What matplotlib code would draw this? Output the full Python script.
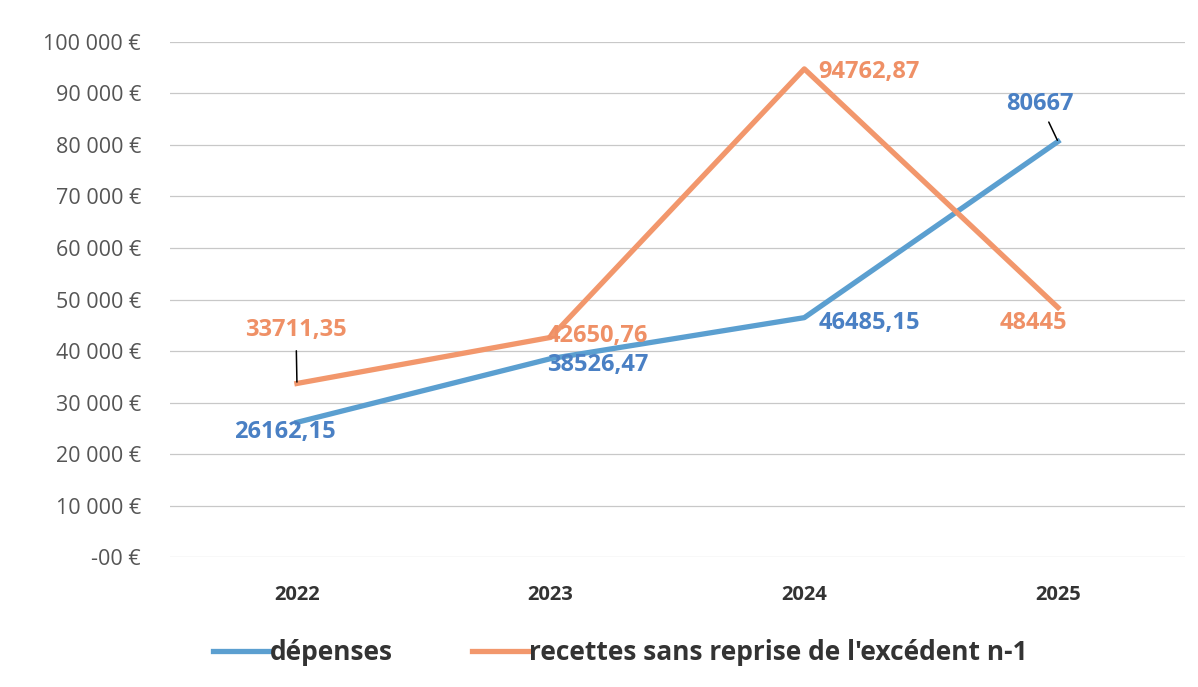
import matplotlib.pyplot as plt
import matplotlib

plt.rcParams['font.family'] = ['Open Sans', 'DejaVu Sans']

# données
annees = ['2022', '2023', '2024', '2025']
depenses = [26162.15, 38526.47, 46485.15, 80667]
recettes = [33711.35, 42650.76, 94762.87, 48445]
etiq_depenses = ['26162,15', '38526,47', '46485,15', '80667']
etiq_recettes = ['33711,35', '42650,76', '94762,87', '48445']
graduations = [0, 10000, 20000, 30000, 40000, 50000, 60000, 70000, 80000, 90000, 100000]
etiq_graduations = ['-00 €', '10 000 €', '20 000 €', '30 000 €', '40 000 €', '50 000 €',
                    '60 000 €', '70 000 €', '80 000 €', '90 000 €', '100 000 €']

bleu = '#5b9fd0'
bleu_txt = '#4a80c4'
orange = '#f2976c'
orange_txt = '#ef9066'

fig = plt.figure(figsize=(11.98, 6.87), dpi=100)
ax = fig.add_axes([0.142, 0.189, 0.847, 0.750])

x = range(len(annees))
ax.plot(x, depenses, color=bleu, lw=3.8, solid_joinstyle='round', label='dépenses')
ax.plot(x, recettes, color=orange, lw=3.8, solid_joinstyle='round',
        label="recettes sans reprise de l'excédent n-1")

ax.set_xlim(-0.5, 3.5)
ax.set_ylim(0, 100000)
ax.set_yticks(graduations)
ax.set_yticklabels(etiq_graduations)
ax.set_xticks(list(x))
ax.set_xticklabels(annees, fontweight='bold')
ax.tick_params(axis='y', length=0, pad=21, labelsize=15.5, labelcolor='#555555')
ax.tick_params(axis='x', length=0, pad=20, labelsize=14.5, labelcolor='#333333')
ax.grid(axis='y', color='#c8c8c8', lw=0.9)
ax.set_axisbelow(True)
for s in ax.spines.values():
    s.set_visible(False)

# étiquettes de données (décalages en pixels)
dec_dep = [(-12, -10), (47, -6), (65, -5), (-18, 38)]
dec_rec = [(-1, 53), (47, 1), (65, -3), (-25, -15)]
fleche_dep = [False, False, False, True]
fleche_rec = [True, False, False, False]

for i in x:
    props = dict(arrowstyle='-', color='black', lw=1.1, shrinkA=3, shrinkB=1) if fleche_dep[i] else None
    ax.annotate(etiq_depenses[i], (i, depenses[i]), xytext=dec_dep[i], textcoords='offset pixels',
                ha='center', va='center', fontsize=17, fontweight='bold', color=bleu_txt,
                arrowprops=props)
    props = dict(arrowstyle='-', color='black', lw=1.1, shrinkA=4, shrinkB=1) if fleche_rec[i] else None
    ax.annotate(etiq_recettes[i], (i, recettes[i]), xytext=dec_rec[i], textcoords='offset pixels',
                ha='center', va='center', fontsize=17, fontweight='bold', color=orange_txt,
                arrowprops=props)

leg = fig.legend(loc='center', bbox_to_anchor=(0.518, 0.05), ncol=2, frameon=False,
                 prop={'size': 19, 'weight': 'bold'}, handlelength=2.1, handletextpad=0.05,
                 columnspacing=3.0)
for t in leg.get_texts():
    t.set_color('#333333')

plt.savefig('out.png', dpi=100)
plt.close()
